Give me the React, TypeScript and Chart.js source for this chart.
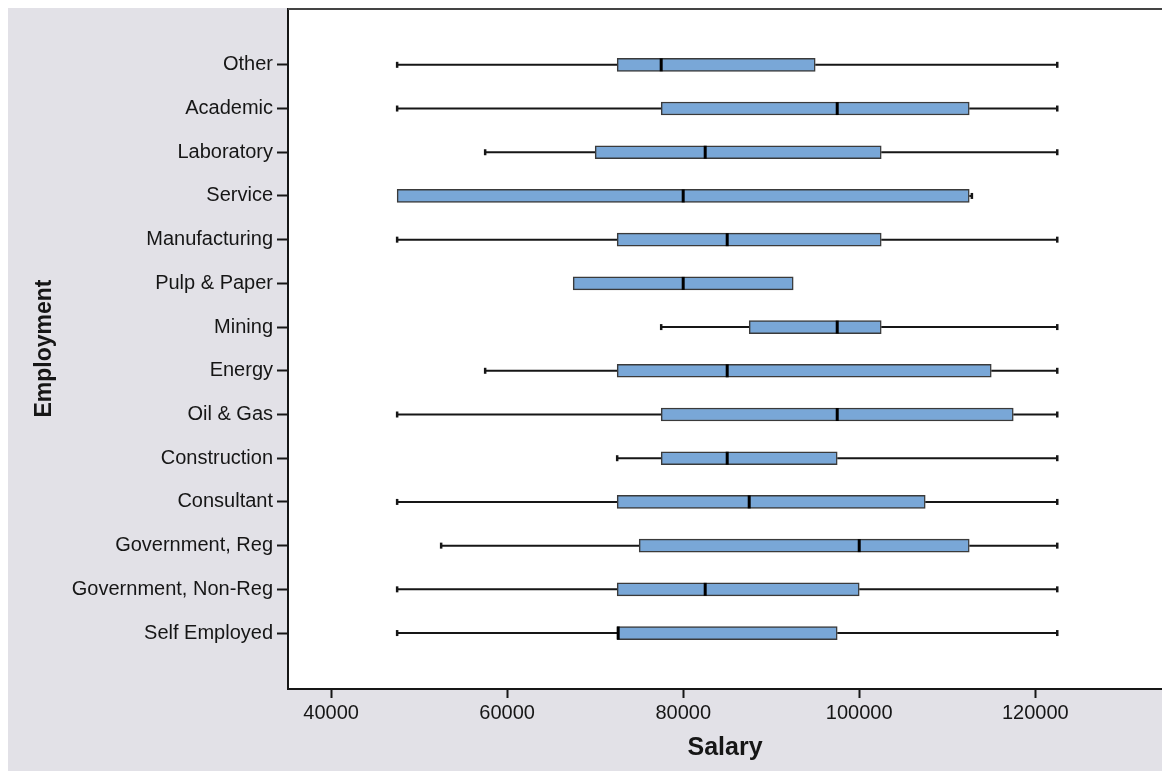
import React, { useEffect, useRef } from 'react';
import { Chart, registerables } from 'chart.js';

Chart.register(...registerables);

const categories = [
  'Other',
  'Academic',
  'Laboratory',
  'Service',
  'Manufacturing',
  'Pulp & Paper',
  'Mining',
  'Energy',
  'Oil & Gas',
  'Construction',
  'Consultant',
  'Government, Reg',
  'Government, Non-Reg',
  'Self Employed',
];

const mins = [47500, 47500, 57500, 47500, 47500, 67500, 77500, 57500, 47500, 72500, 47500, 52500, 47500, 47500];
const q1s = [72500, 77500, 70000, 47500, 72500, 67500, 87500, 72500, 77500, 77500, 72500, 75000, 72500, 72500];
const medians = [77500, 97500, 82500, 80000, 85000, 80000, 97500, 85000, 97500, 85000, 87500, 100000, 82500, 72500];
const q3s = [95000, 112500, 102500, 112500, 102500, 92500, 102500, 115000, 117500, 97500, 107500, 112500, 100000, 97500];
const maxs = [122500, 122500, 122500, 112800, 122500, 92500, 122500, 122500, 122500, 122500, 122500, 122500, 122500, 122500];

const xTicks = [40000, 60000, 80000, 100000, 120000];

const GREY = '#e2e1e7';
const BOX_FILL = '#79a7d7';
const BOX_BORDER = '#3a3a3a';
const INK = '#161616';
const FONT = "'Liberation Sans', Arial, sans-serif";

export default function App() {
  const ref = useRef<HTMLCanvasElement>(null);

  useEffect(() => {
    if (!ref.current) return;
    const boxPlugin = {
      id: 'boxParts',
      beforeDraw(chart: any) {
        const { ctx, chartArea } = chart;
        ctx.save();
        ctx.fillStyle = GREY;
        ctx.fillRect(0, 0, chart.width, chart.height);
        ctx.fillStyle = '#ffffff';
        ctx.fillRect(chartArea.left, chartArea.top, chartArea.right - chartArea.left, chartArea.bottom - chartArea.top);
        ctx.restore();
      },
      beforeDatasetsDraw(chart: any) {
        const { ctx } = chart;
        const xs = chart.scales.x;
        const ys = chart.scales.y;
        ctx.save();
        ctx.strokeStyle = INK;
        categories.forEach((_, i) => {
          const y = ys.getPixelForValue(i);
          const a = xs.getPixelForValue(mins[i]);
          const b = xs.getPixelForValue(maxs[i]);
          if (mins[i] < q1s[i]) {
            ctx.lineWidth = 2;
            ctx.beginPath();
            ctx.moveTo(a, y);
            ctx.lineTo(xs.getPixelForValue(q1s[i]), y);
            ctx.stroke();
            ctx.lineWidth = 2.5;
            ctx.beginPath();
            ctx.moveTo(a, y - 3);
            ctx.lineTo(a, y + 3);
            ctx.stroke();
          }
          if (maxs[i] > q3s[i]) {
            ctx.lineWidth = 2;
            ctx.beginPath();
            ctx.moveTo(xs.getPixelForValue(q3s[i]), y);
            ctx.lineTo(b, y);
            ctx.stroke();
            ctx.lineWidth = 2.5;
            ctx.beginPath();
            ctx.moveTo(b, y - 3);
            ctx.lineTo(b, y + 3);
            ctx.stroke();
          }
        });
        ctx.restore();
      },
      afterDatasetsDraw(chart: any) {
        const { ctx } = chart;
        const xs = chart.scales.x;
        const ys = chart.scales.y;
        ctx.save();
        ctx.strokeStyle = '#000';
        ctx.lineWidth = 3;
        categories.forEach((_, i) => {
          const y = ys.getPixelForValue(i);
          let m = xs.getPixelForValue(medians[i]);
          if (medians[i] === q1s[i]) m += 1;
          ctx.beginPath();
          ctx.moveTo(m, y - 6.5);
          ctx.lineTo(m, y + 6.5);
          ctx.stroke();
        });
        ctx.restore();
      },
      afterDraw(chart: any) {
        const { ctx, chartArea } = chart;
        ctx.save();
        ctx.strokeStyle = '#444';
        ctx.lineWidth = 2;
        ctx.beginPath();
        ctx.moveTo(chartArea.left, chartArea.top + 1);
        ctx.lineTo(chartArea.right, chartArea.top + 1);
        ctx.stroke();
        ctx.restore();
      },
    };

    const chart = new Chart(ref.current, {
      type: 'bar',
      data: {
        datasets: [
          {
            data: categories.map((_, i) => ({ y: i, x: [q1s[i], q3s[i]] })) as any,
            backgroundColor: BOX_FILL,
            borderColor: BOX_BORDER,
            borderWidth: 1.5,
            borderSkipped: false,
            barThickness: 13,
          },
        ],
      },
      options: {
        indexAxis: 'y',
        animation: false,
        responsive: false,
        maintainAspectRatio: false,
        layout: { padding: 0 },
        plugins: { legend: { display: false }, tooltip: { enabled: false } },
        scales: {
          x: {
            type: 'linear',
            position: 'bottom',
            min: 35100,
            max: 134400,
            offset: false,
            afterBuildTicks: (s: any) => {
              s.ticks = xTicks.map((v) => ({ value: v }));
            },
            afterFit: (s: any) => {
              s.height = 82;
              s.paddingLeft = 0;
              s.paddingRight = 0;
            },
            ticks: {
              autoSkip: false,
              maxRotation: 0,
              padding: 3,
              color: INK,
              font: { family: FONT, size: 20 },
              callback: (v: any) => String(v),
            },
            grid: { offset: false, drawOnChartArea: false, drawTicks: true, tickLength: 9, tickWidth: 2, tickColor: INK },
            border: { display: true, color: INK, width: 2 },
            title: {
              display: true,
              text: 'Salary',
              color: INK,
              font: { family: FONT, size: 25, weight: 'bold' },
              padding: { top: 0, bottom: 8 },
            },
          },
          y: {
            type: 'linear',
            reverse: true,
            min: -1.3,
            max: 14.28,
            offset: false,
            afterBuildTicks: (s: any) => {
              s.ticks = categories.map((_, i) => ({ value: i }));
            },
            afterFit: (s: any) => {
              s.width = 280;
              s.paddingTop = 0;
              s.paddingBottom = 0;
            },
            ticks: {
              autoSkip: false,
              padding: 4,
              color: INK,
              font: { family: FONT, size: 20 },
              callback: (v: any) => categories[v] ?? '',
            },
            grid: { offset: false, drawOnChartArea: false, drawTicks: true, tickLength: 11, tickWidth: 2, tickColor: INK },
            border: { display: true, color: INK, width: 2 },
            title: {
              display: true,
              text: 'Employment',
              color: INK,
              font: { family: FONT, size: 23, weight: 'bold' },
              padding: { top: 23, bottom: 0 },
            },
          },
        },
      } as any,
      plugins: [boxPlugin],
    });
    return () => chart.destroy();
  }, []);

  return (
    <div style={{ position: 'absolute', left: 8, top: 8, width: 1154, height: 763 }}>
      <canvas ref={ref} width={1154} height={763} style={{ width: 1154, height: 763, display: 'block' }} />
    </div>
  );
}
